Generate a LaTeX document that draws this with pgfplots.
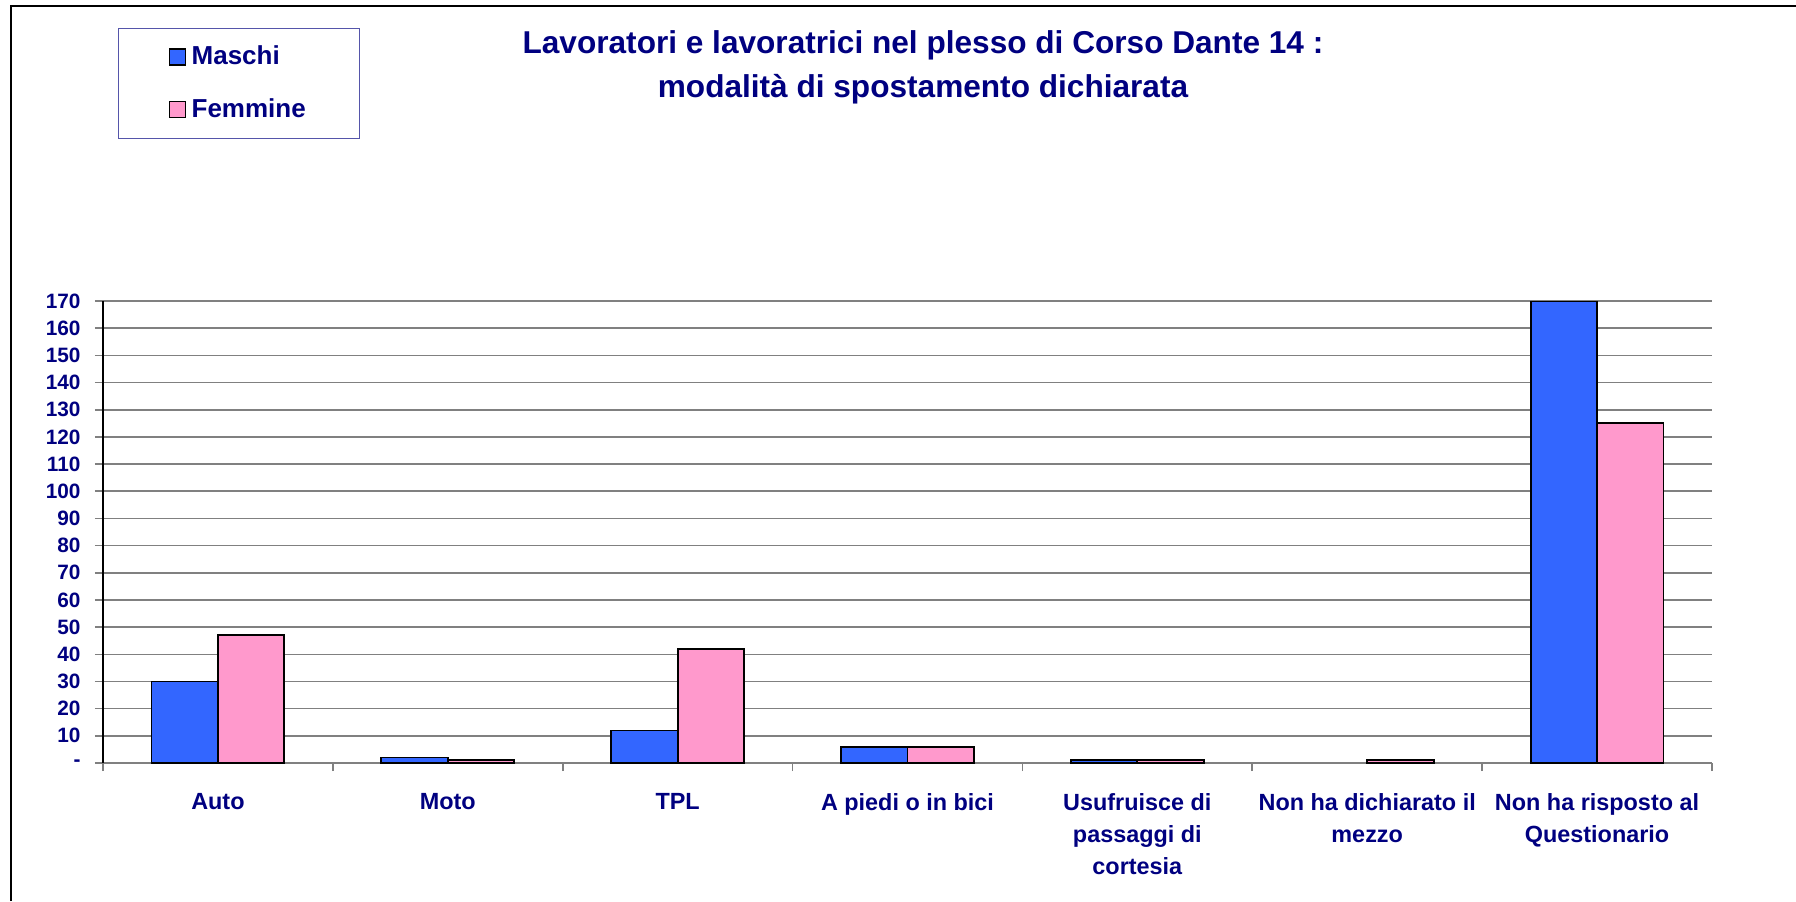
\documentclass[border=0pt]{standalone}
\usepackage{pgfplots}
\pgfplotsset{compat=1.18}
\usepackage{fontspec}
\setmainfont{Liberation Sans}
\definecolor{navy}{HTML}{000080}
\definecolor{mblue}{HTML}{3366FF}
\definecolor{fpink}{HTML}{FF99CC}
\definecolor{gridgray}{HTML}{808080}
\definecolor{legframe}{HTML}{5555AA}

\begin{document}
\begin{tikzpicture}
\useasboundingbox (0,0) rectangle (898pt,-450.5pt);
% outer frame (left and top only)
\draw[line width=1pt] (5.5pt,-450.5pt) -- (5.5pt,-3pt) -- (898pt,-3pt);
\node[font=\fontsize{15.8}{22}\selectfont\bfseries, text=navy, align=center]
  at (461.5pt,-33.7pt) {Lavoratori e lavoratrici nel plesso di Corso Dante 14 :\\modalità di spostamento dichiarata};

\begin{axis}[
  at={(51.5pt,-381.5pt)}, anchor=south west,
  scale only axis, width=804.5pt, height=231pt,
  xmin=-0.5, xmax=6.5, ymin=0, ymax=170,
  ybar=0pt, bar width=33.2pt,
  axis x line*=bottom, axis y line*=left,
  axis line style={-},
  x axis line style={draw=gridgray, line width=0.8pt},
  y axis line style={draw=black, line width=0.8pt},
  ymajorgrids, major grid style={draw=gridgray, line width=0.8pt},
  tick align=outside, major tick length=4pt,
  xtick={-0.5,0.5,1.5,2.5,3.5,4.5,5.5,6.5},
  xticklabels={Auto, Moto, TPL, A piedi o in bici,
    {Usufruisce di\\passaggi di\\cortesia},
    {Non ha dichiarato il\\mezzo},
    {Non ha risposto al\\Questionario}, {}},
  x tick style={draw=gridgray, line width=0.8pt},
  xticklabel style={align=center, font=\fontsize{11.7}{16}\selectfont\bfseries,
    text=navy, anchor=north, xshift=57.46pt, yshift=-7.7pt},
  ytick={0,10,...,170},
  yticklabels={-,10,20,30,40,50,60,70,80,90,100,110,120,130,140,150,160,170},
  y tick style={draw=gridgray, line width=0.8pt},
  yticklabel style={font=\fontsize{10.4}{12}\selectfont\bfseries, text=navy,
    anchor=east, xshift=-3.7pt},
  legend entries={Maschi,Femmine},
  legend image code/.code={\draw[#1, line width=0.6pt] (0pt,-4pt) rectangle (8pt,4pt);
    \path (8.8pt,0pt);},
  legend style={at={(0.0093,1.592)}, anchor=north west, draw=legframe,
    line width=0.6pt, inner xsep=25pt, inner ysep=7pt, row sep=11.3pt,
    font=\fontsize{13}{15}\selectfont\bfseries, text=navy,
    cells={anchor=west}},
]
\addplot[fill=mblue, draw=black, line width=0.9pt, bar shift=-16.6pt]
  coordinates {(0,30) (1,2) (2,12) (3,6) (4,1) (6,170)};
\addplot[fill=fpink, draw=black, line width=0.9pt, bar shift=16.6pt]
  coordinates {(0,47) (1,1) (2,42) (3,6) (4,1) (5,1) (6,125)};
\end{axis}
\end{tikzpicture}
\end{document}
